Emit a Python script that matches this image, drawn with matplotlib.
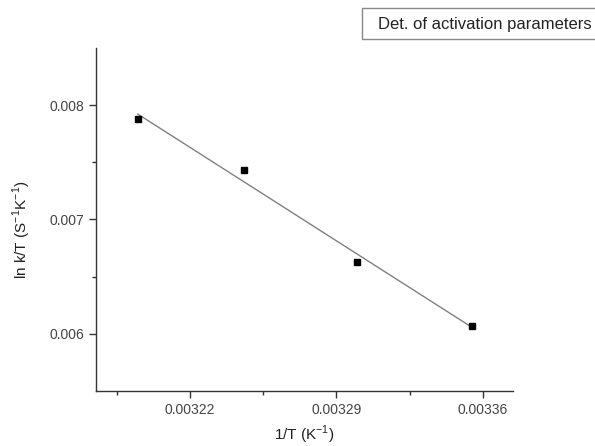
import numpy as np
import matplotlib
matplotlib.use("Agg")
import matplotlib.pyplot as plt
from matplotlib.ticker import FixedLocator
from matplotlib.patches import Rectangle

inv_T = [0.003195, 0.003246, 0.003300, 0.003355]
lnkT = [0.007877, 0.007430, 0.006625, 0.006070]
xticks = [0.00322, 0.00329, 0.00336]
xtick_labels = ["0.00322", "0.00329", "0.00336"]
yticks = [0.006, 0.007, 0.008]
ytick_labels = ["0.006", "0.007", "0.008"]
legend_text = "Det. of activation parameters"

plt.rcParams['font.family'] = ['Liberation Sans', 'DejaVu Sans']
fig = plt.figure(figsize=(5.95, 4.46), dpi=100)
ax = fig.add_axes([96/595, 1-391/446, (513-96)/595, (391-48)/446])

x = np.array(inv_T); y = np.array(lnkT)
m, b = np.polyfit(x, y, 1)
xl = np.array([x.min(), x.max()])
ax.plot(xl, m*xl + b, color='#808080', lw=1.0, zorder=1)
ax.plot(x, y, 's', color='black', ms=5, zorder=2)

ax.set_xlim(0.003175, 0.0033745)
ax.set_ylim(0.0055, 0.0085)
ax.xaxis.set_major_locator(FixedLocator(xticks))
ax.set_xticklabels(xtick_labels)
ax.xaxis.set_minor_locator(FixedLocator([0.003185, 0.003255, 0.003325]))
ax.yaxis.set_major_locator(FixedLocator(yticks))
ax.set_yticklabels(ytick_labels)
ax.yaxis.set_minor_locator(FixedLocator([0.0065, 0.0075]))

for s in ['top', 'right']:
    ax.spines[s].set_visible(False)
for s in ['left', 'bottom']:
    ax.spines[s].set_color('#333333')
    ax.spines[s].set_linewidth(1.0)
ax.tick_params(which='major', direction='out', length=5, width=1, color='#333333', labelsize=10, labelcolor='#444444')
ax.tick_params(which='minor', direction='out', length=3, width=1, color='#333333')

ax.set_xlabel("1/T (K$^{\\mathregular{-1}}$)", fontsize=11, color='#222222', labelpad=5)
ax.set_ylabel("ln k/T (S$^{\\mathregular{-1}}$K$^{\\mathregular{-1}}$)", fontsize=11, color='#222222')
ax.yaxis.set_label_coords(-0.15, 0.47)

fig.patches.append(Rectangle((362/595, 1-39/446), 250/595, 31/446, transform=fig.transFigure,
                             facecolor='white', edgecolor='#888888', lw=1, clip_on=False))
fig.text(378/595, 1-24/446, legend_text, fontsize=12, color='#222222', va='center', ha='left')

fig.savefig("out.png", dpi=100)
